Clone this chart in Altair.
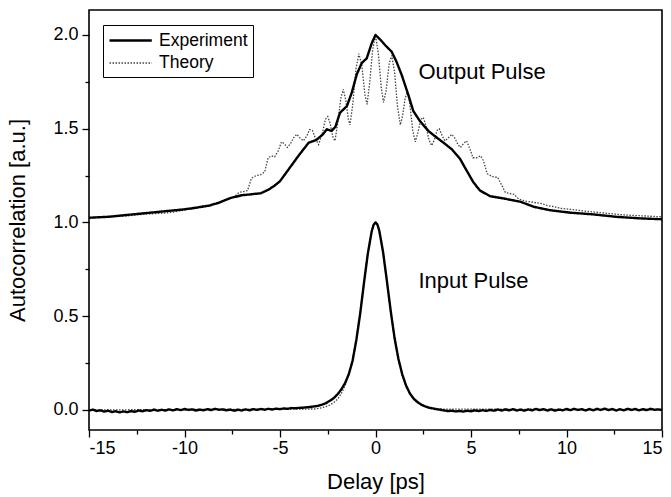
import altair as alt
import pandas as pd

# ---------------- data ----------------
# Output pulse, experiment (solid)
out_exp_x = [-15.0, -14.0, -13.0, -12.0, -11.0, -10.0, -9.3, -8.7, -8.2, -7.6, -7.0, -6.5, -6.0,
             -5.6, -5.3, -5.0, -4.5, -4.0, -3.5, -3.1, -2.75, -2.55, -2.3, -2.1, -1.86, -1.5,
             -1.25, -0.98, -0.72, -0.46, -0.2, 0.0, 0.3, 0.5, 0.85, 1.1, 1.37, 1.72, 1.98, 2.33,
             2.77, 3.2, 3.55, 4.0, 4.42, 4.77, 5.12, 5.47, 6.0, 6.7, 7.6, 8.3, 9.1, 10.2, 11.4,
             12.6, 13.8, 15.0]
out_exp_y = [1.025, 1.03, 1.04, 1.05, 1.06, 1.07, 1.08, 1.09, 1.105, 1.13, 1.145, 1.15, 1.156,
             1.175, 1.195, 1.22, 1.29, 1.36, 1.425, 1.44, 1.47, 1.497, 1.488, 1.51, 1.585, 1.62,
             1.69, 1.79, 1.85, 1.875, 1.955, 2.0, 1.97, 1.946, 1.91, 1.857, 1.787, 1.68, 1.594, 1.54,
             1.488, 1.453, 1.426, 1.39, 1.34, 1.277, 1.215, 1.17, 1.14, 1.128, 1.11, 1.083, 1.066,
             1.052, 1.043, 1.03, 1.022, 1.017]

# Output pulse, theory (dotted)
out_th_x = [-15.0, -14.0, -13.0, -12.0, -11.0, -10.3, -9.8, -9.4, -9.1, -8.8, -8.5, -8.2, -7.9,
            -7.6, -7.35, -7.15, -6.9, -6.7, -6.5, -6.25, -6.0, -5.8, -5.62, -5.45, -5.28, -5.1,
            -4.92, -4.78, -4.62, -4.45, -4.3, -4.12, -3.95, -3.78, -3.6, -3.45, -3.3, -3.15, -2.98,
            -2.8, -2.62, -2.5, -2.38, -2.22, -2.12, -1.98, -1.82, -1.69, -1.55, -1.42, -1.34, -1.2,
            -1.02, -0.87, -0.72, -0.55, -0.44, -0.3, -0.15, 0.0, 0.15, 0.3, 0.42, 0.55, 0.72, 0.85,
            1.0, 1.15, 1.3, 1.42, 1.55, 1.67, 1.8, 1.95, 2.08, 2.22, 2.38, 2.5, 2.63, 2.8, 2.94,
            3.08, 3.22, 3.34, 3.5, 3.64, 3.8, 3.99, 4.15, 4.32, 4.45, 4.6, 4.77, 4.95, 5.1, 5.3,
            5.5, 5.65, 5.85, 6.1, 6.4, 6.6, 6.8, 7.0, 7.25, 7.5, 7.8, 8.1, 8.4, 8.7, 9.0, 9.3,
            9.7, 10.2, 10.6, 11.0, 11.5, 12.0, 12.5, 13.0, 14.0, 15.0]
out_th_y = [1.025, 1.03, 1.035, 1.045, 1.05, 1.06, 1.07, 1.075, 1.09, 1.085, 1.10, 1.105, 1.12,
            1.13, 1.14, 1.16, 1.165, 1.17, 1.235, 1.25, 1.255, 1.27, 1.345, 1.355, 1.35, 1.38,
            1.43, 1.42, 1.40, 1.42, 1.45, 1.47, 1.45, 1.435, 1.46, 1.495, 1.49, 1.45, 1.415,
            1.47, 1.55, 1.565, 1.53, 1.45, 1.435, 1.53, 1.66, 1.71, 1.65, 1.55, 1.52, 1.62,
            1.82, 1.90, 1.84, 1.68, 1.63, 1.75, 1.92, 2.0, 1.90, 1.72, 1.64, 1.70, 1.85, 1.89,
            1.80, 1.62, 1.52, 1.57, 1.66, 1.70, 1.63, 1.49, 1.43, 1.48, 1.55, 1.56, 1.52, 1.44, 1.41,
            1.44, 1.49, 1.50, 1.46, 1.435, 1.45, 1.47, 1.45, 1.415, 1.40, 1.42, 1.435, 1.39, 1.345, 1.345,
            1.355, 1.33, 1.26, 1.245, 1.24, 1.20, 1.16, 1.155, 1.15, 1.125, 1.115, 1.11, 1.105, 1.10, 1.09, 1.085,
            1.075, 1.07, 1.065, 1.06, 1.055, 1.05, 1.045, 1.04, 1.035, 1.03]

# Input pulse, experiment (solid, noisy baseline) sampled every 0.2 ps from -15 to 15
in_exp_x0 = -15.0
in_exp_dx = 0.2
in_exp_y = [
    -0.004, 0.002, -0.006, -0.002, -0.009, -0.004, -0.011, -0.007, -0.013, -0.008,
    -0.012, -0.006, -0.010, -0.003, -0.007, -0.001, -0.005, 0.002, -0.004, 0.001,
    -0.003, 0.003, -0.002, 0.004, -0.001, 0.005, 0.000, 0.003, -0.003, 0.002,
    -0.002, 0.004, -0.001, 0.006, 0.001, 0.003, -0.002, 0.002, -0.004, 0.001,
    -0.003, 0.003, -0.002, 0.004, 0.000, 0.005, 0.001, 0.006, 0.002, 0.007,
    0.004, 0.008, 0.006, 0.010, 0.009, 0.011, 0.012, 0.014, 0.016, 0.019,
    0.022,
    0.028, 0.036, 0.048, 0.062, 0.082, 0.108, 0.142, 0.19, 0.262, 0.375,
    0.515, 0.68, 0.835, 0.952, 1.0, 0.955, 0.84, 0.685, 0.525, 0.382,
    0.272, 0.19, 0.13, 0.088, 0.06, 0.042, 0.028, 0.019, 0.012,
    0.008, 0.004, 0.001, -0.003, -0.006, -0.004, -0.008, -0.005, -0.009, -0.004,
    -0.007, -0.002, -0.006, -0.001, -0.005, 0.000, -0.004, 0.002, -0.003, 0.003,
    -0.002, 0.004, -0.003, 0.002, -0.004, 0.003, -0.002, 0.005, -0.001, 0.004,
    -0.003, 0.003, -0.004, 0.002, -0.002, 0.005, -0.001, 0.006, 0.000, 0.004,
    -0.003, 0.005, -0.002, 0.006, 0.000, 0.007, -0.001, 0.005, -0.003, 0.004,
    -0.002, 0.006, 0.000, 0.005, -0.002, 0.004, -0.001, 0.006, 0.001, 0.003,
    0.000]
# extra samples read near the top of the input peak
in_exp_peak_x = [-0.1, 0.1]
in_exp_peak_y = [0.987, 0.989]

# Input pulse, theory (dotted, smooth)
in_th_x = [-15.0, -3.2, -3.0, -2.8, -2.6, -2.4, -2.2, -2.0, -1.8, -1.6, -1.4, -1.2, -1.0, -0.8,
           -0.6, -0.4, -0.2, -0.1, 0.0, 0.1, 0.2, 0.4, 0.6, 0.8, 1.0, 1.2, 1.4, 1.6, 1.8, 2.0,
           2.2, 2.4, 2.6, 2.8, 3.0, 3.2, 15.0]
in_th_y = [0.0, 0.005, 0.008, 0.012, 0.018, 0.026, 0.038, 0.056, 0.085, 0.128, 0.187, 0.27, 0.38,
           0.52, 0.68, 0.838, 0.956, 0.989, 1.0, 0.989, 0.956, 0.838, 0.68, 0.52, 0.38, 0.27,
           0.187, 0.128, 0.085, 0.056, 0.038, 0.026, 0.018, 0.012, 0.008, 0.005, 0.0]

series_names = ["Experiment", "Theory"]
x_major = [-15, -10, -5, 0, 5, 10, 15]
x_minor = [-12.5, -7.5, -2.5, 2.5, 7.5, 12.5]
y_major = [0.0, 0.5, 1.0, 1.5, 2.0]
y_minor = [0.25, 0.75, 1.25, 1.75]

notes_text = ["Output Pulse", "Input Pulse"]
notes_x = [2.25, 2.25]
notes_y = [1.80, 0.69]

# ---------------- build tables ----------------
rows = []
for x, y in zip(out_exp_x, out_exp_y):
    rows.append({"x": x, "y": y, "series": "Experiment", "pulse": "Output"})
for x, y in zip(out_th_x, out_th_y):
    rows.append({"x": x, "y": y, "series": "Theory", "pulse": "Output"})
for i, y in enumerate(in_exp_y):
    rows.append({"x": round(in_exp_x0 + i * in_exp_dx, 2), "y": y, "series": "Experiment", "pulse": "Input"})
for x, y in zip(in_exp_peak_x, in_exp_peak_y):
    rows.append({"x": x, "y": y, "series": "Experiment", "pulse": "Input"})
for x, y in zip(in_th_x, in_th_y):
    rows.append({"x": x, "y": y, "series": "Theory", "pulse": "Input"})
df = pd.DataFrame(rows)
df_th = df[df.series == "Theory"]
df_ex = df[df.series == "Experiment"]
notes = pd.DataFrame({"text": notes_text, "x": notes_x, "y": notes_y})

XD = [-15, 15]
YD = [-0.107, 2.133]
FONT = "Liberation Sans"

xs = alt.Scale(domain=XD, nice=False, zero=False)
ys = alt.Scale(domain=YD, nice=False, zero=False)

# long horizontal stroke symbol whose row height stays small
leg = alt.Legend(title=None, orient="none", legendX=14, legendY=15, direction="vertical",
                 strokeColor="black", fillColor="white", padding=5, symbolType="M-1,0H3.7",
                 symbolSize=324, labelFont=FONT, labelFontSize=17.5, labelColor="black",
                 rowPadding=4, labelOffset=30, symbolFillColor="transparent")

dash = alt.StrokeDash("series:N", scale=alt.Scale(domain=series_names, range=[[1, 0], [1.5, 1.5]]), legend=leg)
col = alt.Color("series:N", scale=alt.Scale(domain=series_names, range=["#000000", "#444444"]), legend=leg)
sw = alt.StrokeWidth("series:N", scale=alt.Scale(domain=series_names, range=[2.4, 1.3]), legend=leg)

xax = alt.Axis(values=x_major, labelExpr="'' + datum.value", tickSize=7, labelFontSize=18,
               labelFont=FONT, title="Delay [ps]", titleFontSize=22, titleFont=FONT,
               titleFontWeight="normal", labelPadding=2, titlePadding=14, grid=False,
               domain=False, tickColor="black", tickWidth=1.3, labelColor="black",
               titleColor="black")
yax = alt.Axis(values=y_major, format=".1f", tickSize=7, labelFontSize=18, labelFont=FONT,
               title="Autocorrelation [a.u.]", titleFontSize=22, titleFont=FONT,
               titleFontWeight="normal", labelPadding=4, titlePadding=23, grid=False,
               domain=False, tickColor="black", tickWidth=1.3, labelColor="black", titleColor="black")

base_x = alt.X("x:Q", scale=xs, axis=xax)
base_y = alt.Y("y:Q", scale=ys, axis=yax)

theory = alt.Chart(df_th).mark_line(strokeCap="butt").encode(
    x=base_x, y=base_y, strokeDash=dash, color=col, strokeWidth=sw, detail="pulse:N", order="x:Q")
exper = alt.Chart(df_ex).mark_line(strokeJoin="round").encode(
    x=base_x, y=base_y, strokeDash=dash, color=col, strokeWidth=sw, detail="pulse:N", order="x:Q")
labels = alt.Chart(notes).mark_text(align="left", baseline="middle", font=FONT, fontSize=22,
                                    color="black").encode(
    x=alt.X("x:Q", scale=xs), y=alt.Y("y:Q", scale=ys), text="text:N")

main = alt.layer(theory, exper, labels)

# minor ticks via a second pair of axes on the same sides
minor_x_axis = alt.Axis(values=x_minor, labels=False, tickSize=4, title=None, grid=False,
                        domain=False, orient="bottom", tickColor="black", tickWidth=1.3)
minor_y_axis = alt.Axis(values=y_minor, labels=False, tickSize=4, title=None, grid=False,
                        domain=False, orient="left", tickColor="black", tickWidth=1.3)
minor = alt.Chart(notes).mark_point(opacity=0).encode(
    x=alt.X("x:Q", scale=xs, axis=minor_x_axis),
    y=alt.Y("y:Q", scale=ys, axis=minor_y_axis))

chart = alt.layer(main, minor).resolve_scale(x="independent", y="independent").properties(
    width=573, height=420,
    autosize=alt.AutoSizeParams(type="none"),
    padding={"left": 89, "top": 10, "right": 9, "bottom": 67},
    background="white",
).configure_view(stroke="black", strokeWidth=1.6)

chart.save("out.html", embed_options={"renderer": "svg", "actions": False})
